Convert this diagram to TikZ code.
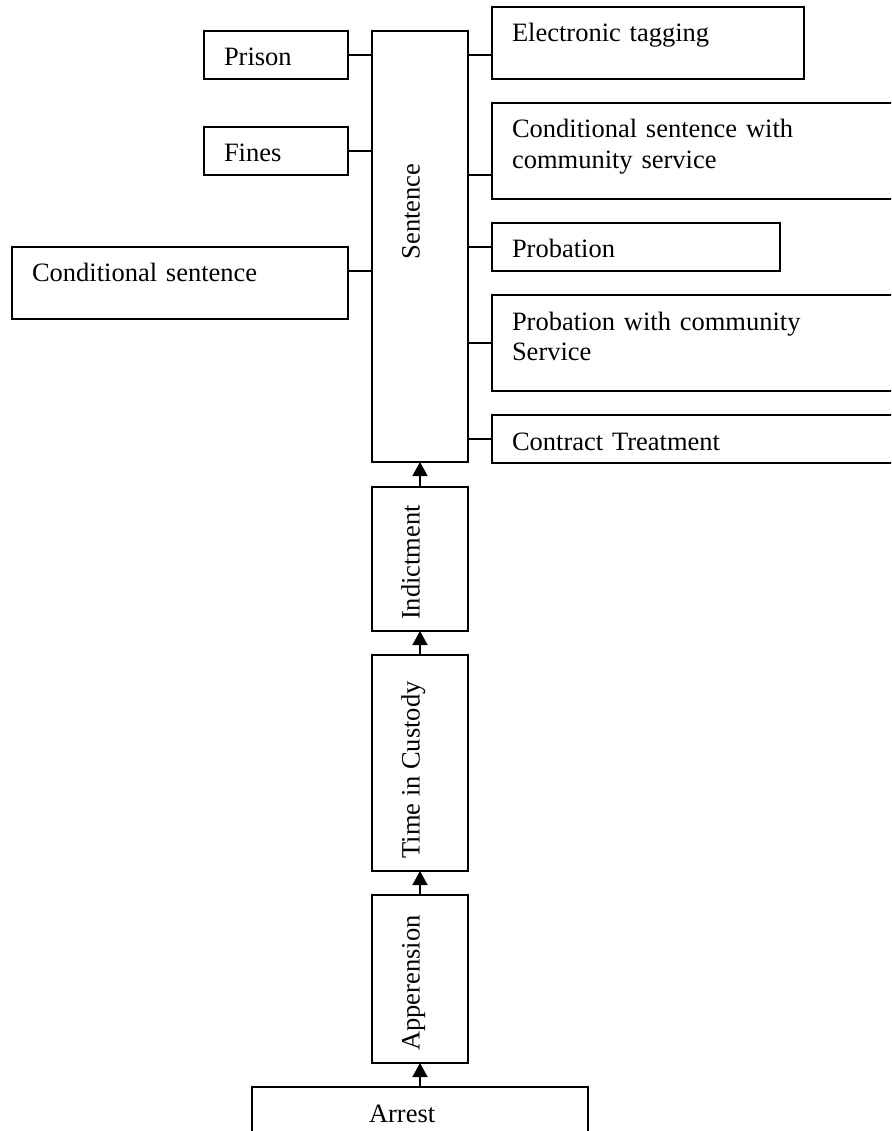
\documentclass[tikz,border=0pt]{standalone}
\usepackage{fontspec}
\setmainfont{Liberation Serif}
\usetikzlibrary{arrows.meta,calc}
\begin{document}
\begin{tikzpicture}[x=1pt,y=-1pt,
  box/.style={draw, line width=1.6pt, inner sep=0pt, outer sep=0pt, anchor=north west, font=\fontsize{26.5}{30.5}\selectfont},
  tbox/.style={box, align=left, inner xsep=20pt, inner ysep=0pt, text height=35pt},
  vtext/.style={rotate=90, anchor=base, inner sep=0pt, font=\fontsize{26.5}{30.5}\selectfont},
  link/.style={line width=1.6pt},
  flow/.style={line width=1.6pt, -{Triangle[length=14pt,width=15pt]}}]
\useasboundingbox (0,0) rectangle (891,1131);
\clip (0,0) rectangle (891,1131);

% left column
\node[tbox, text width=104pt, text depth=13pt] (prison) at (204,31) {Prison};
\node[tbox, text width=104pt, text depth=13pt] (fines) at (204,127) {Fines};
\node[tbox, text width=296pt, text depth=37pt] (condsent) at (12,247) {Conditional sentence};

% central column
\node[box, minimum width=96pt, minimum height=431pt] (sentence) at (372,31) {};
\node[box, minimum width=96pt, minimum height=144pt] (indict) at (372,487) {};
\node[box, minimum width=96pt, minimum height=216pt] (custody) at (372,655) {};
\node[box, minimum width=96pt, minimum height=168pt] (apper) at (372,895) {};
\node[tbox, inner xsep=117pt, text width=102pt, text depth=25pt] (arrest) at (252,1087) {Arrest};

\node[vtext] (sentence-t) at (419.5,211.5) {Sentence};
\node[vtext] (indict-t) at (419.5,562.5) {Indictment};
\node[vtext] (custody-t) at (419.5,770) {Time in Custody};
\node[vtext] (apper-t) at (419.5,983) {Apperension};

% right column
\node[tbox, text width=272pt, text depth=37pt] (etag) at (492,7) {Electronic tagging};
\node[tbox, text width=368pt, text depth=61pt] (cscs) at (492,103) {Conditional sentence with\\community service};
\node[tbox, text width=248pt, text depth=13pt] (probation) at (492,223) {Probation};
\node[tbox, text width=368pt, text depth=61pt] (pcs) at (492,295) {Probation with community\\Service};
\node[tbox, text width=368pt, text depth=13pt] (contract) at (492,415) {Contract Treatment};

% connectors to the left
\draw[link] (prison.east) -- (prison.east -| sentence.west);
\draw[link] (fines.east) -- (fines.east -| sentence.west);
\coordinate (c-cs) at ([yshift=12pt]condsent.east);
\draw[link] (c-cs) -- (c-cs -| sentence.west);

% connectors to the right
\coordinate (c-et) at ([yshift=-12pt]etag.west);
\draw[link] (c-et) -- (c-et -| sentence.east);
\coordinate (c-cscs) at ([yshift=-24pt]cscs.west);
\draw[link] (c-cscs) -- (c-cscs -| sentence.east);
\draw[link] (probation.west) -- (probation.west -| sentence.east);
\draw[link] (pcs.west) -- (pcs.west -| sentence.east);
\draw[link] (contract.west) -- (contract.west -| sentence.east);

% flow arrows
\draw[flow] (arrest.north) -- (apper.south);
\draw[flow] (apper.north) -- (custody.south);
\draw[flow] (custody.north) -- (indict.south);
\draw[flow] (indict.north) -- (sentence.south);
\end{tikzpicture}
\end{document}
